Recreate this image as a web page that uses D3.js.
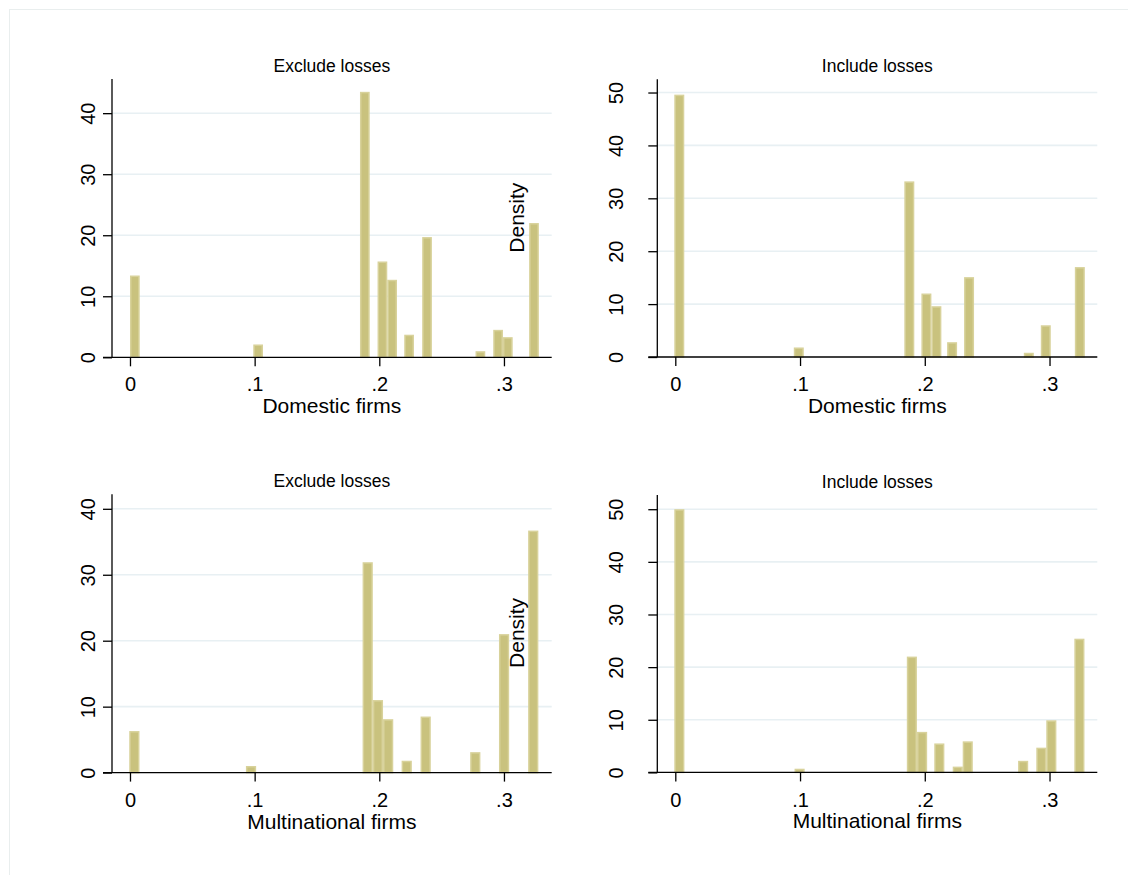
<!DOCTYPE html>
<html>
<head>
<meta charset="utf-8">
<script src="https://cdn.jsdelivr.net/npm/d3@7"></script>
<style>
  html, body { margin: 0; padding: 0; background: #fff; }
  svg { display: block; font-family: "Liberation Sans", Arial, sans-serif; }
</style>
</head>
<body>
<svg id="chart" width="1128" height="875"></svg>
<script>
// Histograms of effective tax rates: bin left edges and densities per panel.
const xTickValues = [0, 0.1, 0.2, 0.3];
const xTickLabels = ["0", ".1", ".2", ".3"];

const domesticExclStart   = [0.0, 0.0989, 0.1845, 0.1986, 0.2064, 0.2200, 0.2344, 0.2772, 0.2914, 0.2992, 0.3202];
const domesticExclDensity = [13.4, 2.1, 43.5, 15.7, 12.7, 3.7, 19.7, 1.0, 4.5, 3.3, 22.0];
const domesticExclWidth   = 0.0078;

const domesticInclStart   = [-0.0008, 0.0950, 0.1836, 0.1973, 0.2053, 0.2179, 0.2315, 0.2794, 0.2930, 0.3203];
const domesticInclDensity = [49.6, 1.8, 33.2, 12.0, 9.6, 2.8, 15.1, 0.8, 6.0, 17.0];
const domesticInclWidth   = 0.0080;

const multiExclStart   = [-0.0006, 0.0930, 0.1866, 0.1948, 0.2030, 0.2179, 0.2331, 0.2729, 0.2960, 0.3194];
const multiExclDensity = [6.3, 1.0, 31.9, 11.0, 8.1, 1.8, 8.5, 3.1, 21.0, 36.7];
const multiExclWidth   = 0.0082;

const multiInclStart   = [-0.0008, 0.0956, 0.1856, 0.1938, 0.2076, 0.2224, 0.2304, 0.2748, 0.2894, 0.2974, 0.3199];
const multiInclDensity = [50.0, 0.7, 22.0, 7.7, 5.5, 1.1, 5.9, 2.2, 4.7, 9.9, 25.4];
const multiInclWidth   = 0.0081;

const yTicksA = [0, 10, 20, 30, 40];
const yTicksB = [0, 10, 20, 30, 40, 50];

const panelTitles = ["Exclude losses", "Include losses"];
const groupTitles = ["Domestic firms", "Multinational firms"];

// Panel layout (pixels) and axis ranges
const panels = [
  { title: panelTitles[0], xTitle: groupTitles[0], starts: domesticExclStart, dens: domesticExclDensity, w: domesticExclWidth,
    yTicks: yTicksA, yMax: 45.6, left: 112, right: 551.7, top: 79, bottom: 357.3, yLabelX: 95, density: true },
  { title: panelTitles[1], xTitle: groupTitles[0], starts: domesticInclStart, dens: domesticInclDensity, w: domesticInclWidth,
    yTicks: yTicksB, yMax: 52.5, left: 657.3, right: 1097.3, top: 79.3, bottom: 357, yLabelX: 623.3, density: false },
  { title: panelTitles[0], xTitle: groupTitles[1], starts: multiExclStart, dens: multiExclDensity, w: multiExclWidth,
    yTicks: yTicksA, yMax: 42.2, left: 112, right: 551.7, top: 494.3, bottom: 772.6, yLabelX: 95, density: true },
  { title: panelTitles[1], xTitle: groupTitles[1], starts: multiInclStart, dens: multiInclDensity, w: multiInclWidth,
    yTicks: yTicksB, yMax: 52.7, left: 657.3, right: 1097.3, top: 495, bottom: 772.4, yLabelX: 623.3, density: false }
];

const xDomain = [-0.01443, 0.3383];
const barFill = "#c9c27e";
const barStroke = "#d8d29b";
const gridColor = "#e8f0f3";

const svg = d3.select("#chart");

// outer frame (only top and left edges fall inside the canvas)
svg.append("rect")
  .attr("x", 9.5).attr("y", 9.5)
  .attr("width", 1140).attr("height", 890)
  .attr("fill", "none").attr("stroke", "#e9eeee").attr("stroke-width", 1);

panels.forEach(p => {
  const g = svg.append("g");
  const x = d3.scaleLinear().domain(xDomain).range([p.left, p.right]);
  const y = d3.scaleLinear().domain([0, p.yMax]).range([p.bottom, p.top]);
  const cx = (p.left + p.right) / 2;

  // gridlines
  g.selectAll("line.grid")
    .data(p.yTicks.filter(t => t > 0))
    .enter().append("line")
    .attr("x1", p.left).attr("x2", p.right)
    .attr("y1", d => y(d)).attr("y2", d => y(d))
    .attr("stroke", gridColor).attr("stroke-width", 1.6);

  // bars
  const bins = p.starts.map((s, i) => ({ x0: s, x1: s + p.w, d: p.dens[i] }));
  g.selectAll("rect.bar")
    .data(bins)
    .enter().append("rect")
    .attr("x", d => x(d.x0) + 0.75)
    .attr("width", d => x(d.x1) - x(d.x0) - 1.5)
    .attr("y", d => y(d.d) + 0.75)
    .attr("height", d => y(0) - y(d.d) - 0.75)
    .attr("fill", barFill)
    .attr("stroke", barStroke)
    .attr("stroke-width", 1.5);

  // x axis
  const xAxis = d3.axisBottom(x)
    .tickValues(xTickValues)
    .tickFormat((d, i) => xTickLabels[i])
    .tickSize(9).tickSizeOuter(0).tickPadding(3);
  const xg = g.append("g").attr("transform", `translate(0,${p.bottom})`).call(xAxis);
  xg.select(".domain").attr("d", `M${p.left - 9},0H${p.right}`).attr("stroke", "#000").attr("stroke-width", 1.3);
  xg.selectAll(".tick line").attr("stroke", "#000").attr("stroke-width", 1.3);
  xg.selectAll(".tick text")
    .attr("font-size", 20).attr("fill", "#000")
    .attr("font-family", "Liberation Sans, Arial, sans-serif")
    .attr("dy", null).attr("y", 391 - 357.3 + (p.bottom > 500 ? 0.7 : 0));

  // y axis
  const yAxis = d3.axisLeft(y)
    .tickValues(p.yTicks)
    .tickSize(9).tickSizeOuter(0)
    .tickFormat(d3.format("d"));
  const yg = g.append("g").attr("transform", `translate(${p.left},0)`).call(yAxis);
  yg.select(".domain").attr("d", `M0,${p.top}V${p.bottom}`).attr("stroke", "#000").attr("stroke-width", 1.3);
  yg.selectAll(".tick line").attr("stroke", "#000").attr("stroke-width", 1.3);
  yg.selectAll(".tick text")
    .attr("font-size", 20).attr("fill", "#000")
    .attr("font-family", "Liberation Sans, Arial, sans-serif")
    .attr("x", null).attr("dy", null)
    .attr("text-anchor", "middle")
    .attr("transform", `translate(${p.yLabelX - p.left},0) rotate(-90)`);

  // panel title
  g.append("text")
    .attr("x", cx).attr("y", p.top - 7.5)
    .attr("text-anchor", "middle")
    .attr("font-size", 17.5)
    .text(p.title);

  // x axis title
  g.append("text")
    .attr("x", cx).attr("y", p.bottom + 56)
    .attr("text-anchor", "middle")
    .attr("font-size", 21)
    .text(p.xTitle);

  // y axis title drawn inside the plot area
  if (p.density) {
    g.append("text")
      .attr("transform", `translate(523.5,${(p.top + p.bottom) / 2 - 0.5}) rotate(-90)`)
      .attr("text-anchor", "middle")
      .attr("font-size", 21)
      .text("Density");
  }
});
</script>
</body>
</html>
